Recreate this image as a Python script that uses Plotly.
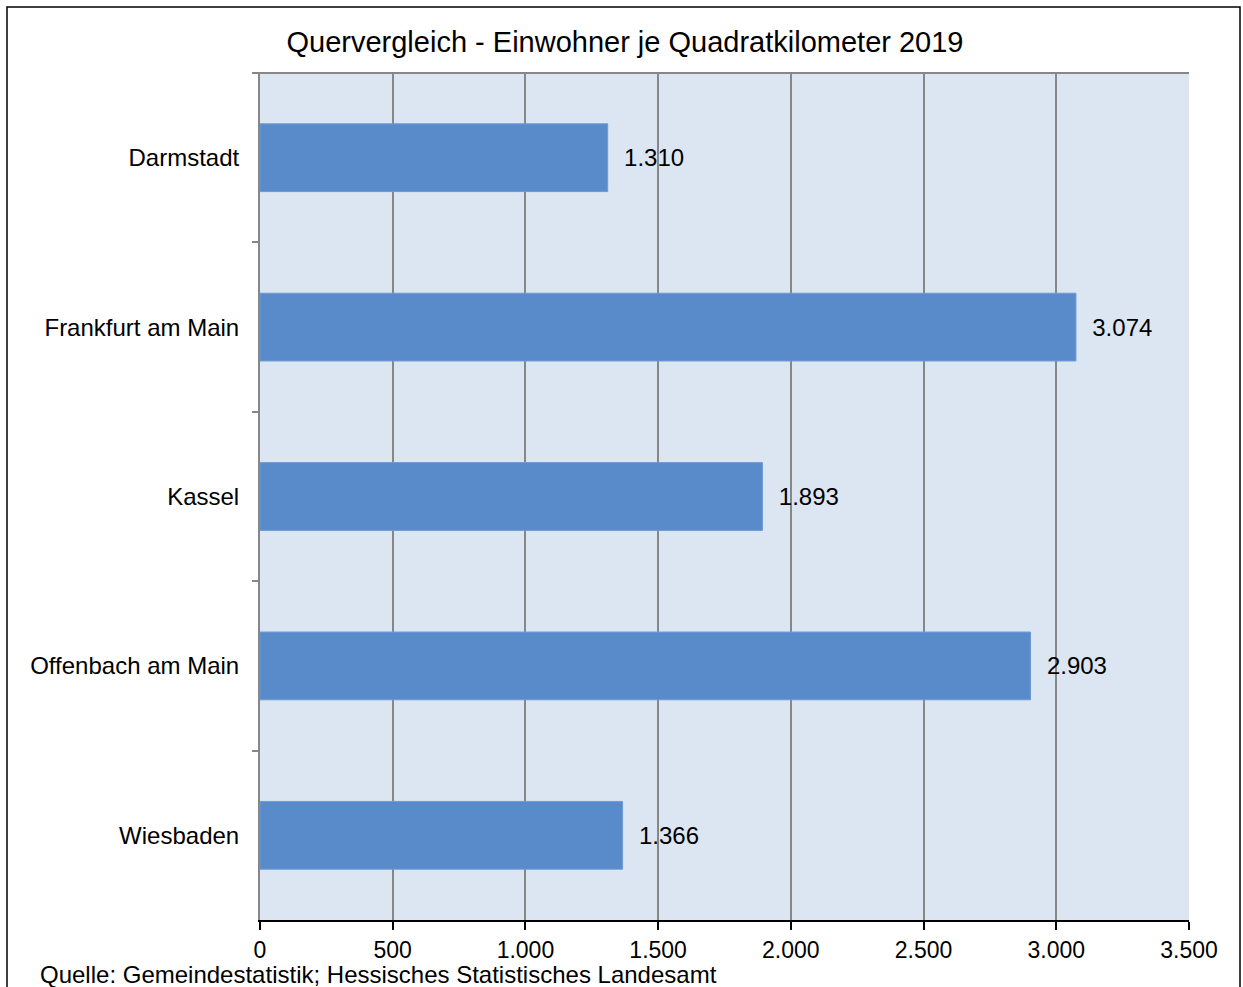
import plotly.graph_objects as go

cities = ["Darmstadt", "Frankfurt am Main", "Kassel", "Offenbach am Main", "Wiesbaden"]
density = [1310, 3074, 1893, 2903, 1366]
x_ticks = [0, 500, 1000, 1500, 2000, 2500, 3000, 3500]
title_text = "Quervergleich - Einwohner je Quadratkilometer 2019"
source_text = "Quelle: Gemeindestatistik; Hessisches Statistisches Landesamt"

FONT = "Liberation Sans, Arial, sans-serif"
W, H = 1243, 987
L, R, T, B = 260, 54, 73, 67
pw, ph = W - L - R, H - T - B

fig = go.Figure(go.Bar(
    y=cities, x=density, orientation="h",
    marker=dict(color="#598BCB", line=dict(color="#6E9BD4", width=1)),
    texttemplate="\u00a0\u00a0%{x:,.0f}", textposition="outside",
    textfont=dict(size=24, color="black", family=FONT),
    cliponaxis=False, constraintext="none",
))

fig.update_layout(
    width=W, height=H,
    margin=dict(l=L, r=R, t=T, b=B, autoexpand=False),
    paper_bgcolor="white", plot_bgcolor="#DCE6F2",
    separators=",.",
    font=dict(family=FONT, size=23, color="black"),
    bargap=0.6, showlegend=False,
    title=dict(text=title_text, font=dict(size=29, family=FONT, color="black"),
               x=625 / W, xanchor="center", xref="container",
               y=1 - 42 / H, yanchor="middle", yref="container"),
    xaxis=dict(range=[0, 3500], tickvals=x_ticks, tickformat=",.0f",
               showgrid=True, gridcolor="#878787", gridwidth=1.5,
               showline=True, linecolor="black", linewidth=2,
               ticks="outside", ticklen=8, tickcolor="black", tickwidth=2,
               tickfont=dict(size=23), zeroline=False, fixedrange=True),
    yaxis=dict(autorange="reversed", tickson="boundaries",
               showgrid=False, showline=True, linecolor="#878787", linewidth=2,
               ticks="outside", ticklen=6, tickcolor="#878787", tickwidth=1.5,
               ticklabelstandoff=14,
               tickfont=dict(size=24), zeroline=False, fixedrange=True),
    shapes=[
        dict(type="line", xref="paper", yref="paper", x0=-7 / pw, x1=1, y0=1, y1=1,
             line=dict(color="#878787", width=2)),
        dict(type="rect", xref="paper", yref="paper",
             x0=(7 - L) / pw, x1=(1240 - L) / pw,
             y0=(H - B - 1000) / ph, y1=(H - B - 7) / ph,
             line=dict(color="black", width=1.5), fillcolor="rgba(0,0,0,0)",
             layer="above"),
    ],
    annotations=[
        dict(text=source_text, xref="paper", yref="paper",
             x=(38 - L) / pw, xanchor="left",
             y=(H - B - 975) / ph, yanchor="middle",
             showarrow=False, font=dict(size=24, family=FONT, color="black")),
    ],
)

fig.write_html("out.html", config={"displayModeBar": False},
               post_script="document.body.style.margin='0';document.body.style.overflow='hidden';")
